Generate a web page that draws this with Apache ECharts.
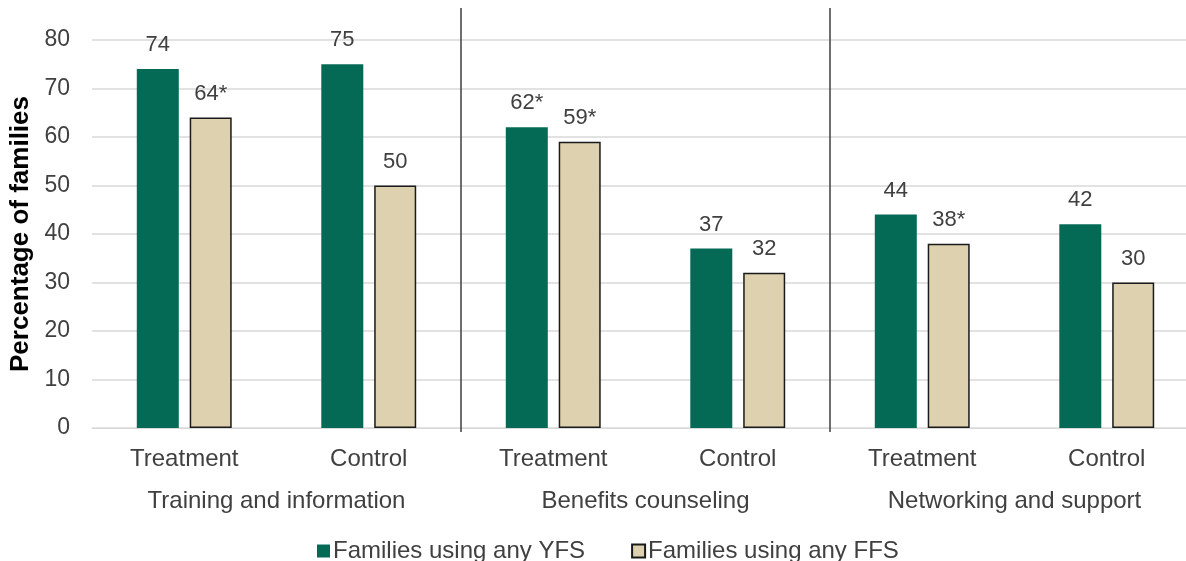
<!DOCTYPE html>
<html>
<head>
<meta charset="utf-8">
<script src="https://cdn.jsdelivr.net/npm/echarts@6/dist/echarts.min.js"></script>
<style>
html,body{margin:0;padding:0;background:#fff;}
#chart{width:1186px;height:561px;}
</style>
</head>
<body>
<div id="chart"></div>
<script>
// ---- data ----
const categories = ['Treatment', 'Control', 'Treatment', 'Control', 'Treatment', 'Control'];
const groups = ['Training and information', 'Benefits counseling', 'Networking and support'];
const seriesNames = ['Families using any YFS', 'Families using any FFS'];
const yfsValues = [74, 75, 62, 37, 44, 42];
const ffsValues = [64, 50, 59, 32, 38, 30];
const yfsSignificant = [false, false, true, false, false, false];
const ffsSignificant = [true, false, true, false, true, false];
const yTicks = [0, 10, 20, 30, 40, 50, 60, 70, 80];

const FONT = '"Liberation Sans", Arial, sans-serif';
const TEXT = '#404040';

function labelFormatter(flags) {
  return function (p) { return p.value + (flags[p.dataIndex] ? '*' : ''); };
}

const chart = echarts.init(document.getElementById('chart'));
chart.setOption({
  animation: false,
  textStyle: { fontFamily: FONT },
  grid: { left: 92, top: 40, width: 1107, height: 388, containLabel: false, outerBoundsMode: 'none' },
  legend: {
    data: seriesNames,
    bottom: -7,
    left: 312,
    itemWidth: 13,
    itemHeight: 13,
    itemGap: 46,
    icon: 'rect',
    textStyle: { fontFamily: FONT, fontSize: 24, color: TEXT, padding: [0, 0, 0, -2] }
  },
  xAxis: [
    {
      type: 'category',
      data: categories,
      position: 'bottom',
      axisLine: { show: true, lineStyle: { color: '#d9d9d9', width: 1 } },
      axisTick: {
        show: true,
        length: 4,
        interval: function (idx) { return idx === 2 || idx === 4; },
        lineStyle: { color: '#404040', width: 1.5 }
      },
      axisLabel: { fontFamily: FONT, fontSize: 24, color: TEXT, margin: 19, interval: 0 }
    },
    {
      type: 'category',
      data: groups,
      position: 'bottom',
      axisLine: { show: false },
      axisTick: {
        show: true,
        inside: true,
        length: 420,
        interval: function (idx) { return idx === 1 || idx === 2; },
        lineStyle: { color: '#404040', width: 1.5 }
      },
      axisLabel: { fontFamily: FONT, fontSize: 24, color: TEXT, margin: 61, interval: 0 }
    }
  ],
  yAxis: {
    type: 'value',
    min: yTicks[0],
    max: yTicks[yTicks.length - 1],
    interval: yTicks[1] - yTicks[0],
    name: 'Percentage of families',
    nameLocation: 'middle',
    nameGap: 52,
    nameTextStyle: { fontFamily: FONT, fontSize: 26, fontWeight: 'bold', color: '#000' },
    axisLine: { show: false },
    axisTick: { show: false },
    axisLabel: { fontFamily: FONT, fontSize: 23, color: TEXT, margin: 22 },
    splitLine: { lineStyle: { color: '#d9d9d9', width: 1.5 } }
  },
  series: [
    {
      name: seriesNames[0],
      type: 'bar',
      xAxisIndex: 0,
      data: yfsValues,
      barWidth: 42,
      barGap: '26%',
      itemStyle: { color: '#046A56' },
      label: {
        show: true, position: 'top', distance: 13,
        fontFamily: FONT, fontSize: 22, color: TEXT,
        formatter: labelFormatter(yfsSignificant)
      }
    },
    {
      name: seriesNames[1],
      type: 'bar',
      xAxisIndex: 0,
      data: ffsValues,
      barWidth: 42,
      barGap: '26%',
      itemStyle: { color: '#DDD1B0', borderColor: '#1a1a1a', borderWidth: 1.5 },
      label: {
        show: true, position: 'top', distance: 13,
        fontFamily: FONT, fontSize: 22, color: TEXT,
        formatter: labelFormatter(ffsSignificant)
      }
    }
  ]
});
</script>
</body>
</html>
